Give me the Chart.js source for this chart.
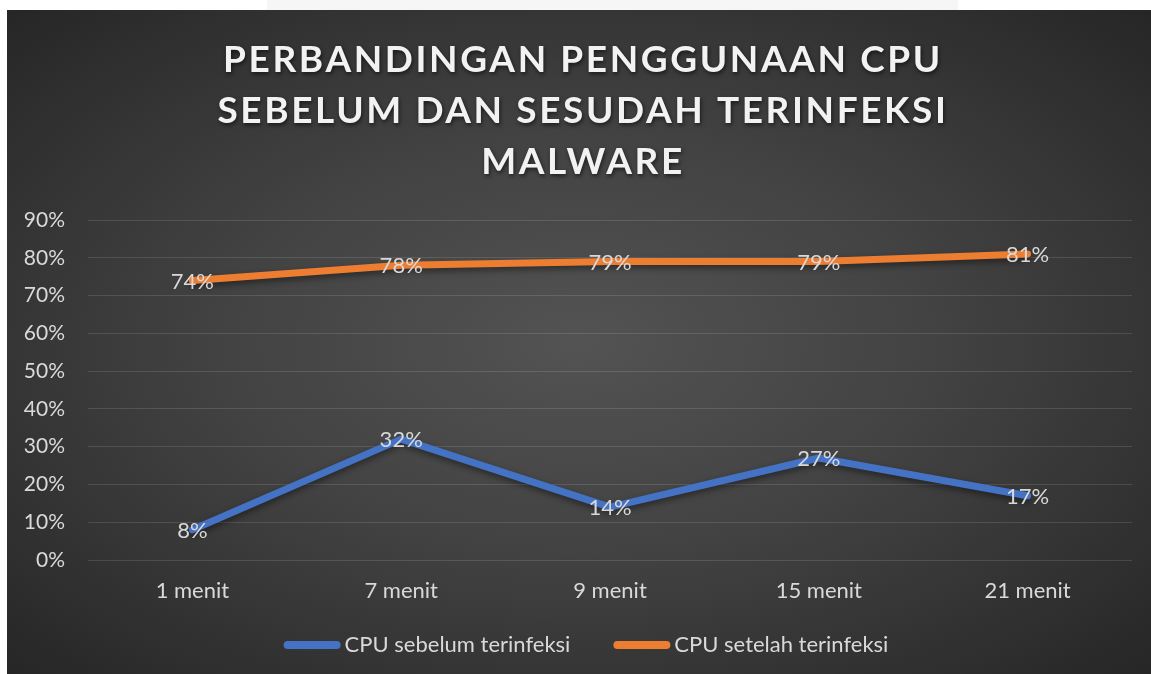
<!DOCTYPE html>
<html>
<head>
<meta charset="utf-8">
<script src="https://cdn.jsdelivr.net/npm/chart.js@4/dist/chart.umd.min.js"></script>
<style>
  html, body { margin: 0; padding: 0; background: #ffffff; width: 1151px; height: 674px; overflow: hidden; }
  #strip { position: absolute; left: 267px; top: 0; width: 691px; height: 10px; background: #f6f6f6; }
  #panel { position: absolute; left: 7px; top: 10px; width: 1144px; height: 664px;
    background: radial-gradient(ellipse farthest-corner at 50% 50%, #535353 0%, #424242 45%, #262626 100%); }
  canvas { display: block; }
</style>
</head>
<body>
<div id="strip"></div>
<div id="panel"><canvas id="c" width="1144" height="664"></canvas></div>
<script>
const titleLines = ["PERBANDINGAN PENGGUNAAN CPU", "SEBELUM DAN SESUDAH TERINFEKSI", "MALWARE"];
const categories = ["1 menit", "7 menit", "9 menit", "15 menit", "21 menit"];
const seriesNames = ["CPU sebelum terinfeksi", "CPU setelah terinfeksi"];
const cpuBefore = [8, 32, 14, 27, 17];
const cpuAfter = [74, 78, 79, 79, 81];
const yTicks = [0, 10, 20, 30, 40, 50, 60, 70, 80, 90];
const seriesColors = ["#4472C4", "#ED7D31"];

const FONT = "Lato, 'Open Sans', sans-serif";
const TEXT = "#d9d9d9";

const titlePlugin = {
  id: 'titleDraw',
  afterDraw(chart) {
    const ctx = chart.ctx;
    ctx.save();
    ctx.font = "bold 37px " + FONT;
    ctx.letterSpacing = "2.6px";
    ctx.textAlign = "center";
    ctx.textBaseline = "middle";
    ctx.fillStyle = "#f2f2f2";
    ctx.shadowColor = "rgba(0,0,0,0.6)";
    ctx.shadowBlur = 4;
    ctx.shadowOffsetX = 1;
    ctx.shadowOffsetY = 2;
    const cx = 576;
    titleLines.forEach((t, i) => ctx.fillText(t, cx, 50 + i * 51));
    ctx.restore();
  }
};

const shadowPlugin = {
  id: 'lineShadow',
  beforeDatasetsDraw(chart) {
    const ctx = chart.ctx;
    ctx.save();
    ctx.shadowColor = "rgba(0,0,0,0.45)";
    ctx.shadowBlur = 6;
    ctx.shadowOffsetY = 3;
  },
  afterDatasetsDraw(chart) {
    const ctx = chart.ctx;
    ctx.restore();
    ctx.save();
    ctx.font = "22px " + FONT;
    ctx.fillStyle = TEXT;
    ctx.textAlign = "center";
    ctx.textBaseline = "middle";
    chart.data.datasets.forEach((ds, di) => {
      const meta = chart.getDatasetMeta(di);
      meta.data.forEach((pt, i) => {
        ctx.fillText(ds.data[i] + "%", pt.x, pt.y + 1);
      });
    });
    ctx.restore();
  }
};

const legendPlugin = {
  id: 'customLegend',
  afterDraw(chart) {
    const ctx = chart.ctx;
    ctx.save();
    ctx.font = "22px " + FONT;
    ctx.textBaseline = "middle";
    ctx.textAlign = "left";
    const marker = 57, gapText = 4, gapItem = 43;
    const ds = chart.data.datasets;
    let total = 0;
    ds.forEach((d, i) => { total += marker + gapText + ctx.measureText(d.label).width; if (i < ds.length - 1) total += gapItem; });
    let x = 579 - total / 2;
    const y = 635;
    ds.forEach((d) => {
      ctx.strokeStyle = d.borderColor;
      ctx.lineWidth = 8;
      ctx.lineCap = "round";
      ctx.beginPath();
      ctx.moveTo(x + 4, y);
      ctx.lineTo(x + marker - 4, y);
      ctx.stroke();
      x += marker + gapText;
      ctx.fillStyle = TEXT;
      ctx.fillText(d.label, x, y);
      x += ctx.measureText(d.label).width + gapItem;
    });
    ctx.restore();
  }
};

new Chart(document.getElementById('c'), {
  type: 'line',
  data: {
    labels: categories,
    datasets: [
      { label: seriesNames[0], data: cpuBefore, borderColor: seriesColors[0], backgroundColor: seriesColors[0] },
      { label: seriesNames[1], data: cpuAfter, borderColor: seriesColors[1], backgroundColor: seriesColors[1] }
    ]
  },
  options: {
    responsive: false,
    devicePixelRatio: 1,
    animation: false,
    layout: { padding: { top: 210, bottom: 54, left: 0, right: 19 } },
    elements: {
      line: { borderWidth: 7, tension: 0, borderCapStyle: 'round', borderJoinStyle: 'round' },
      point: { radius: 0, hoverRadius: 0 }
    },
    plugins: {
      legend: { display: false },
      title: { display: false },
      tooltip: { enabled: false }
    },
    scales: {
      x: {
        offset: true,
        grid: { display: false },
        border: { display: false },
        ticks: { color: TEXT, font: { family: FONT, size: 22 }, padding: 10, maxRotation: 0 },
        afterFit(s) { s.height = 60; }
      },
      y: {
        min: 0, max: 90,
        grid: { color: "rgba(255,255,255,0.12)", lineWidth: 1, drawTicks: false },
        border: { display: false },
        afterBuildTicks(s) { s.ticks = yTicks.map(v => ({ value: v })); },
        ticks: { color: TEXT, font: { family: FONT, size: 21 }, padding: 23, callback: v => v + "%" },
        afterFit(s) { s.width = 81; }
      }
    }
  },
  plugins: [titlePlugin, shadowPlugin, legendPlugin]
});
</script>
</body>
</html>
